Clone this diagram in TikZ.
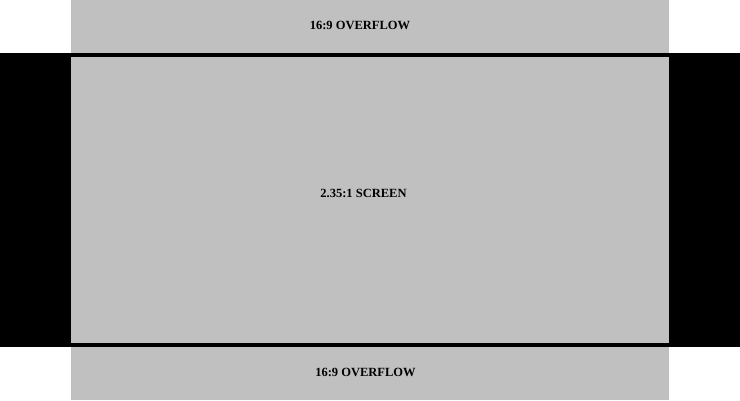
\documentclass[tikz,border=0pt]{standalone}
\usepackage{fontspec}
\setmainfont{Liberation Serif}
\usepackage{tikz}
\usetikzlibrary{positioning}

\definecolor{screengray}{HTML}{C0C0C0}

\tikzset{
  label text/.style={font=\bfseries\fontsize{12.5}{14}\selectfont, inner sep=0pt},
}

\begin{document}
\begin{tikzpicture}[x=1pt, y=-1pt]
  \useasboundingbox (0,0) rectangle (740,400);
  % overflow area and black bars
  \fill[screengray] (71,0) rectangle (669,400);
  \fill[black] (0,53) rectangle (740,347);
  \fill[screengray] (71,57) rectangle (669,343);

  \node[label text] (top) at (360,25.5) {16:9 OVERFLOW};
  \node[label text] (screen) at (363.5,193) {2.35:1 SCREEN};
  \node[label text] (bottom) at (365.5,372) {16:9 OVERFLOW};
\end{tikzpicture}
\end{document}
